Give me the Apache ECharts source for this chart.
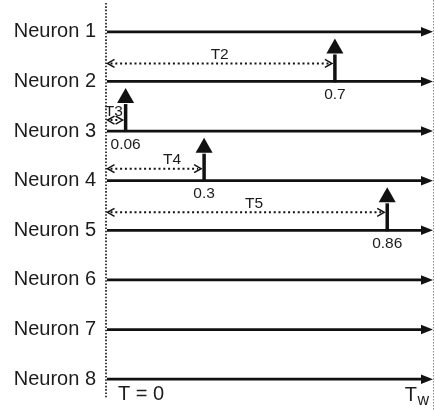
<!DOCTYPE html>
<html>
<head>
<meta charset="utf-8">
<script src="https://cdn.jsdelivr.net/npm/echarts@6/dist/echarts.min.js"></script>
<style>
  html, body { margin: 0; padding: 0; background: #fff; }
  #chart { width: 435px; height: 411px; }
</style>
</head>
<body>
<div id="chart"></div>
<script>
// Rows of the raster: one horizontal time axis per neuron
const neurons = ['Neuron 1', 'Neuron 2', 'Neuron 3', 'Neuron 4',
                 'Neuron 5', 'Neuron 6', 'Neuron 7', 'Neuron 8'];

// Spikes: which neuron fires and when (fraction of the window)
const spikeNeuron = ['Neuron 2', 'Neuron 3', 'Neuron 4', 'Neuron 5'];
const spikeTime = [0.7, 0.06, 0.3, 0.86];
const spikeLabels = ['0.7', '0.06', '0.3', '0.86'];

// Delay from window start to each spike
const intervalNames = ['T2', 'T3', 'T4', 'T5'];

// Window boundaries and their captions
const windowBounds = [0, 1];
const windowLabels = ['T = 0', 'T_w'];

// Drawing styles (not data)
const FONT = '"Liberation Sans", Arial, Helvetica, sans-serif';
const INK = '#111';
const TEXT = '#1c1c1c';
const intervalLift = [18, 11, 12, 18];      // px above the neuron line
const intervalLabelPos = [0.5, 0.42, 0.69, 0.53];

const rowIndex = name => neurons.indexOf(name);

const axisData = neurons.map((n, i) => [windowBounds[0], windowBounds[1], i]);
const spikeData = spikeTime.map((t, i) => [t, rowIndex(spikeNeuron[i])]);
const intervalData = spikeTime.map((t, i) => [windowBounds[0], t, rowIndex(spikeNeuron[i])]);
const boundData = windowBounds.map(b => [b, 0]);

const chart = echarts.init(document.getElementById('chart'), null, { renderer: 'canvas' });

chart.setOption({
  animation: false,
  backgroundColor: '#fff',
  grid: { left: 106, right: 2, top: 7, bottom: 7, containLabel: false },
  xAxis: { type: 'value', min: 0, max: 1, show: false },
  yAxis: {
    type: 'category',
    data: neurons,
    inverse: true,
    boundaryGap: true,
    axisLine: { show: false },
    axisTick: { show: false },
    splitLine: { show: false },
    axisLabel: { fontFamily: FONT, fontSize: 20, color: TEXT, margin: 10 }
  },
  series: [
    {
      // window boundaries: dotted verticals with captions
      type: 'custom',
      clip: false,
      data: boundData,
      encode: { x: 0, y: 1 },
      renderItem(params, api) {
        const cs = params.coordSys;
        const x = api.coord([api.value(0), 0])[0];
        const isStart = params.dataIndex === 0;
        const children = [];
        if (isStart) {
          children.push({
            type: 'line',
            shape: { x1: x, y1: cs.y - 4, x2: x, y2: cs.y + cs.height - 6 },
            style: { stroke: INK, lineWidth: 1.6, lineDash: [1.6, 1.7] }
          });
          children.push({
            type: 'text',
            style: { text: windowLabels[0], x: x + 12, y: 394, fill: TEXT,
                     font: '20px ' + FONT, textAlign: 'left', textVerticalAlign: 'middle' }
          });
        } else {
          children.push({
            type: 'line',
            shape: { x1: x + 0.5, y1: 0, x2: x + 0.5, y2: 411 },
            style: { stroke: '#8c8c8c', lineWidth: 1, lineDash: [1.5, 1.5] }
          });
          const parts = windowLabels[1].split('_');
          children.push({
            type: 'text',
            style: { text: parts[0], x: x - 16, y: 395, fill: TEXT,
                     font: '20px ' + FONT, textAlign: 'right', textVerticalAlign: 'middle' }
          });
          children.push({
            type: 'text',
            style: { text: parts[1], x: x - 4, y: 401, fill: TEXT,
                     font: '16px ' + FONT, textAlign: 'right', textVerticalAlign: 'middle' }
          });
        }
        return { type: 'group', children };
      },
      z: 1
    },
    {
      // per-neuron time axes ending in an arrowhead
      type: 'custom',
      clip: false,
      data: axisData,
      encode: { x: [0, 1], y: 2 },
      renderItem(params, api) {
        const y = api.coord([0, api.value(2)])[1];
        const xa = api.coord([api.value(0), api.value(2)])[0];
        const xb = api.coord([api.value(1), api.value(2)])[0];
        return {
          type: 'group',
          children: [
            { type: 'line', shape: { x1: xa + 1, y1: y, x2: xb - 9, y2: y },
              style: { stroke: INK, lineWidth: 2.7 } },
            { type: 'polygon', shape: { points: [[xb, y], [xb - 12, y - 4.8], [xb - 12, y + 4.8]] },
              style: { fill: INK } }
          ]
        };
      },
      z: 2
    },
    {
      // spikes: vertical arrow on the neuron line, value underneath
      type: 'custom',
      clip: false,
      data: spikeData,
      encode: { x: 0, y: 1 },
      renderItem(params, api) {
        const p = api.coord([api.value(0), api.value(1)]);
        const x = p[0], y = p[1];
        const tip = y - 43, base = y - 28;
        return {
          type: 'group',
          children: [
            { type: 'line', shape: { x1: x, y1: y + 1, x2: x, y2: base + 1 },
              style: { stroke: INK, lineWidth: 3.5 } },
            { type: 'polygon', shape: { points: [[x, tip], [x - 8.5, base], [x + 8.5, base]] },
              style: { fill: INK } },
            { type: 'text',
              style: { text: spikeLabels[params.dataIndex], x: x, y: y + 13.5, fill: TEXT,
                       font: '15.5px ' + FONT, textAlign: 'center', textVerticalAlign: 'middle' } }
          ]
        };
      },
      z: 3
    },
    {
      // delay intervals: dotted double-headed arrows with their names
      type: 'custom',
      clip: false,
      data: intervalData,
      encode: { x: [0, 1], y: 2 },
      renderItem(params, api) {
        const i = params.dataIndex;
        const row = api.value(2);
        const x0 = api.coord([api.value(0), row])[0] + 1.5;
        const x1 = api.coord([api.value(1), row])[0] - 3;
        const y = api.coord([0, row])[1] - intervalLift[i];
        const head = 7, half = 4;
        const chevronStyle = { stroke: INK, lineWidth: 1.5, fill: null };
        const lx = x0 + intervalLabelPos[i] * (x1 - x0);
        return {
          type: 'group',
          children: [
            { type: 'line', shape: { x1: x0 + 3, y1: y, x2: x1 - 3, y2: y },
              style: { stroke: INK, lineWidth: 2, lineDash: [2, 2.8] } },
            { type: 'polyline', shape: { points: [[x0 + head, y - half], [x0, y], [x0 + head, y + half]] },
              style: chevronStyle },
            { type: 'polyline', shape: { points: [[x1 - head, y - half], [x1, y], [x1 - head, y + half]] },
              style: chevronStyle },
            { type: 'text',
              style: { text: intervalNames[i], x: lx, y: y - 8.5, fill: TEXT,
                       font: '15.5px ' + FONT, textAlign: 'center', textVerticalAlign: 'middle' } }
          ]
        };
      },
      z: 4
    }
  ]
});
</script>
</body>
</html>
